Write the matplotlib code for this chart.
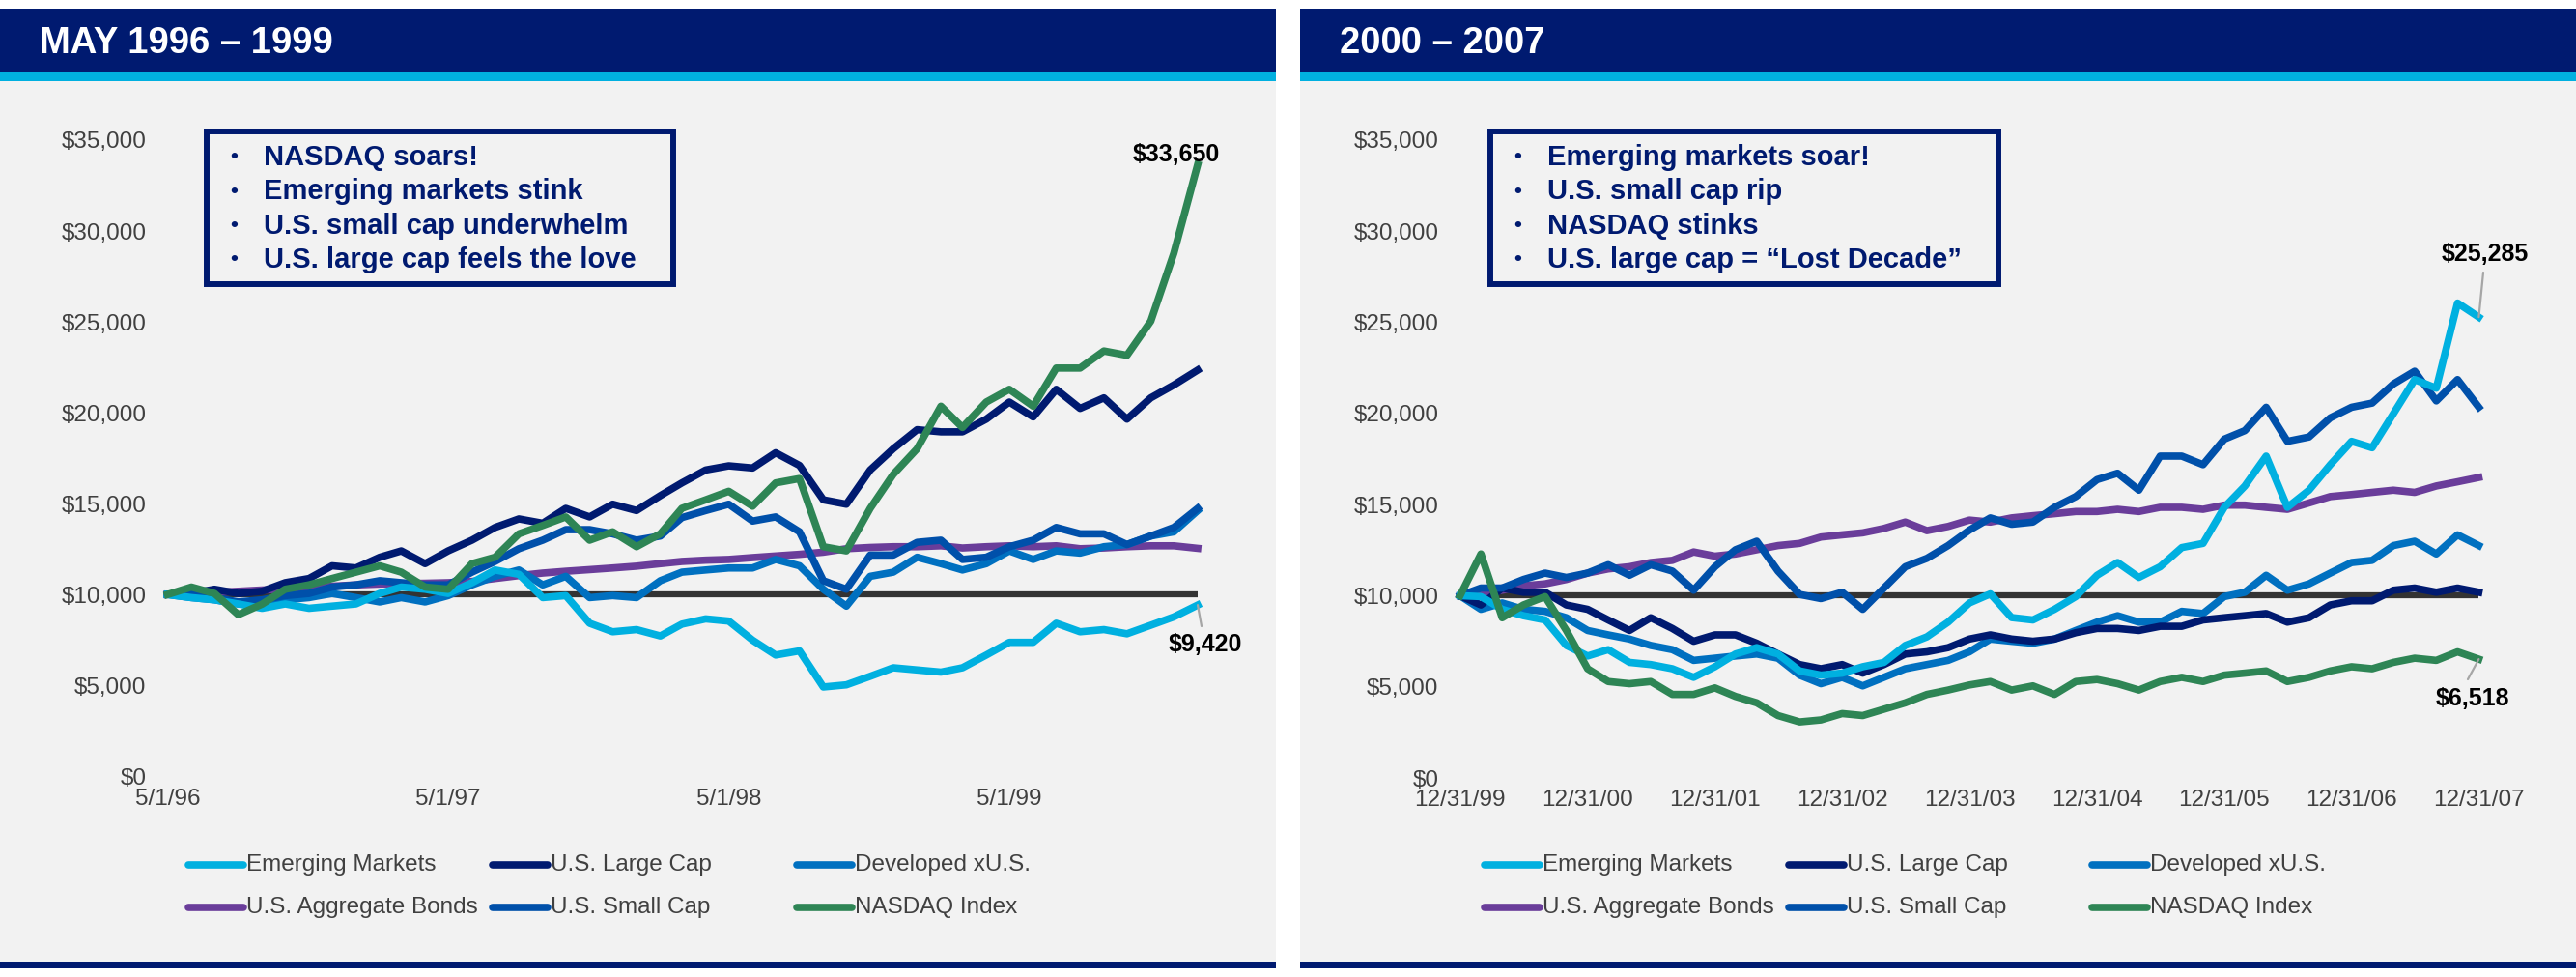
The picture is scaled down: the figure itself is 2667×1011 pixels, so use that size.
import matplotlib
matplotlib.use("Agg")
import matplotlib.pyplot as plt
from matplotlib.patches import Rectangle
from matplotlib.lines import Line2D
from matplotlib.ticker import FuncFormatter
import pandas as pd

plt.rcParams['font.family'] = ['Liberation Sans', 'DejaVu Sans']

# ---- data (growth of $10,000) ----
dates_96 = [pd.Timestamp('1996-05-01') + pd.DateOffset(months=i) for i in range(45)]
em_96 = [10000, 9830, 9710, 9480, 9240, 9480, 9240, 9360, 9480, 10060,
         10410, 10290, 10060, 10650, 11350, 11110, 9830, 9940, 8420, 7950,
         8070, 7720, 8370, 8660, 8540, 7490, 6670, 6900, 4910, 5030,
         5500, 5970, 5850, 5730, 5970, 6670, 7370, 7370, 8420, 7950,
         8070, 7840, 8310, 8770, 9420]
large_96 = [10000, 10060, 10290, 10060, 10180, 10650, 10880, 11580, 11460, 12050,
            12400, 11700, 12400, 12990, 13690, 14160, 13920, 14740, 14270, 14970,
            14620, 15440, 16140, 16850, 17080, 16960, 17800, 17100, 15210, 14970,
            16850, 18020, 19070, 18950, 18950, 19650, 20590, 19770, 21290, 20240,
            20820, 19650, 20820, 21530, 22350]
dev_96 = [10000, 9830, 9710, 9480, 9590, 9710, 9830, 10060, 9830, 9590,
          9830, 9590, 9940, 10530, 11000, 11350, 10530, 11000, 9830, 9940,
          9830, 10760, 11230, 11350, 11460, 11460, 11930, 11580, 10290, 9360,
          11000, 11230, 12050, 11700, 11350, 11700, 12400, 11930, 12400, 12280,
          12630, 12750, 13220, 13450, 14620]
bonds_96 = [10000, 10010, 10110, 10180, 10250, 10290, 10340, 10460, 10530, 10580,
            10600, 10620, 10650, 10720, 10880, 11040, 11180, 11280, 11370, 11460,
            11560, 11700, 11820, 11890, 11930, 12030, 12120, 12210, 12330, 12520,
            12590, 12630, 12630, 12680, 12560, 12630, 12680, 12630, 12680, 12520,
            12560, 12630, 12680, 12680, 12540]
small_96 = [10000, 10060, 9830, 9590, 9710, 9940, 10060, 10410, 10530, 10760,
            10650, 10530, 10530, 11230, 11820, 12520, 12990, 13570, 13570, 13340,
            12990, 13220, 14230, 14620, 14970, 14040, 14270, 13450, 10760, 10290,
            12170, 12170, 12870, 12990, 11930, 12050, 12630, 12990, 13690, 13340,
            13340, 12750, 13220, 13690, 14740]
nasdaq_96 = [10000, 10410, 10060, 8890, 9470, 10290, 10530, 10880, 11230, 11580,
             11230, 10410, 10290, 11700, 12050, 13340, 13800, 14270, 12990, 13450,
             12630, 13340, 14740, 15210, 15680, 14860, 16140, 16380, 12630, 12400,
             14740, 16610, 18020, 20360, 19190, 20590, 21290, 20360, 22460, 22460,
             23400, 23160, 25040, 28780, 33650]

dates_00 = [pd.Timestamp('1999-12-31') + pd.offsets.MonthEnd(2 * i) for i in range(49)]
em_00 = [10000, 9950, 9250, 8900, 8670, 7270, 6690, 7040, 6340, 6220,
         5990, 5520, 6100, 6800, 7150, 6800, 5870, 5640, 5750, 6100,
         6340, 7270, 7740, 8550, 9600, 10100, 8800, 8670, 9250, 9950,
         11120, 11820, 11000, 11590, 12640, 12870, 14850, 16020, 17660, 14850,
         15790, 17190, 18470, 18120, 19990, 21860, 21390, 26060, 25285]
large_00 = [10000, 9490, 10420, 10190, 10190, 9490, 9250, 8670, 8090, 8790,
            8200, 7500, 7850, 7850, 7390, 6800, 6220, 5990, 6220, 5750,
            6220, 6800, 6920, 7150, 7620, 7850, 7620, 7500, 7620, 7970,
            8200, 8200, 8090, 8320, 8320, 8670, 8790, 8900, 9020, 8550,
            8790, 9490, 9720, 9720, 10300, 10420, 10190, 10420, 10190]
dev_00 = [10000, 9250, 9600, 9250, 9140, 8790, 8090, 7850, 7620, 7270,
          7040, 6450, 6570, 6690, 6800, 6570, 5640, 5170, 5520, 5050,
          5520, 5990, 6220, 6450, 6920, 7620, 7500, 7390, 7620, 8090,
          8550, 8900, 8550, 8550, 9140, 9020, 9950, 10190, 11120, 10300,
          10650, 11240, 11820, 11940, 12750, 12990, 12290, 13340, 12750]
bonds_00 = [10000, 10070, 10300, 10540, 10650, 10890, 11240, 11470, 11590, 11820,
            11940, 12400, 12170, 12290, 12520, 12750, 12870, 13220, 13340, 13450,
            13690, 14040, 13570, 13800, 14150, 14040, 14270, 14390, 14500, 14620,
            14620, 14740, 14620, 14850, 14850, 14740, 14970, 14970, 14850, 14740,
            15090, 15440, 15550, 15670, 15790, 15670, 16020, 16250, 16490]
small_00 = [10000, 10420, 10420, 10890, 11240, 11000, 11240, 11700, 11120, 11700,
            11350, 10300, 11590, 12520, 12990, 11350, 10070, 9840, 10190, 9250,
            10420, 11590, 12050, 12750, 13600, 14270, 13920, 14040, 14850, 15440,
            16370, 16720, 15790, 17660, 17660, 17190, 18590, 19060, 20340, 18470,
            18710, 19760, 20340, 20570, 21620, 22320, 20690, 21860, 20340]
nasdaq_00 = [10000, 12290, 8790, 9490, 9950, 8090, 5990, 5290, 5170, 5290,
             4580, 4580, 4940, 4470, 4120, 3420, 3070, 3180, 3530, 3420,
             3770, 4120, 4580, 4820, 5100, 5290, 4820, 5050, 4580, 5290,
             5400, 5170, 4820, 5290, 5520, 5290, 5640, 5750, 5870, 5290,
             5520, 5870, 6100, 5990, 6340, 6570, 6450, 6920, 6518]

series_names = ['Emerging Markets', 'U.S. Large Cap', 'Developed xU.S.',
                'U.S. Aggregate Bonds', 'U.S. Small Cap', 'NASDAQ Index']
ticks_96 = ['1996-05-01', '1997-05-01', '1998-05-01', '1999-05-01']
ticklabels_96 = ['5/1/96', '5/1/97', '5/1/98', '5/1/99']
ticks_00 = ['%d-12-31' % y for y in range(1999, 2008)]
ticklabels_00 = ['12/31/%02d' % (y % 100) for y in range(1999, 2008)]

notes_96 = ['NASDAQ soars!', 'Emerging markets stink',
            'U.S. small cap underwhelm', 'U.S. large cap feels the love']
notes_00 = ['Emerging markets soar!', 'U.S. small cap rip',
            'NASDAQ stinks', 'U.S. large cap = \u201cLost Decade\u201d']

# ---- styling ----
W, H = 2667, 1011
NAVY = '#001a70'
CYAN = '#00b0e0'
BG = '#f2f2f2'
TXT = '#404040'
colors = {'Emerging Markets': '#00b0e0', 'U.S. Large Cap': '#001a70',
          'Developed xU.S.': '#0070c0', 'U.S. Aggregate Bonds': '#6a3d9a',
          'U.S. Small Cap': '#0050aa', 'NASDAQ Index': '#2e8555'}

fig = plt.figure(figsize=(W / 100, H / 100), dpi=100)
fig.patch.set_facecolor('white')


def fx(x):
    return x / W


def fy(y):
    return 1 - y / H


def band(x0, x1, y0, y1, c):
    fig.add_artist(Rectangle((fx(x0), fy(y1)), (x1 - x0) / W, (y1 - y0) / H,
                             transform=fig.transFigure, facecolor=c,
                             edgecolor='none', zorder=0))


def panel(x0, x1, title):
    band(x0, x1, 84, 995, BG)
    band(x0, x1, 9, 74, NAVY)
    band(x0, x1, 74, 84, CYAN)
    band(x0, x1, 995, 1002, NAVY)
    fig.text(fx(x0 + 41), fy(45), title, color='white', fontsize=27.5,
             fontweight='bold', va='center', ha='left')


def make_axes(x0, x1, ytop, ybot, dates, data, xt, xtl):
    ax = fig.add_axes([fx(x0), fy(ybot), (x1 - x0) / W, (ybot - ytop) / H])
    ax.set_facecolor('none')
    for s in ax.spines.values():
        s.set_visible(False)
    ax.set_xlim(dates[0], dates[-1])
    ax.set_ylim(0, 35000)
    ax.set_yticks(range(0, 35001, 5000))
    ax.yaxis.set_major_formatter(FuncFormatter(lambda v, p: '${:,.0f}'.format(v)))
    ax.set_xticks([pd.Timestamp(t) for t in xt])
    ax.set_xticklabels(xtl)
    ax.tick_params(axis='y', length=0, labelsize=17.5, labelcolor=TXT, pad=16)
    ax.tick_params(axis='x', length=0, labelsize=17.5, labelcolor=TXT, pad=9)
    ax.axhline(10000, color='#333333', lw=4.5, zorder=2)
    order = ['U.S. Aggregate Bonds', 'Developed xU.S.', 'U.S. Large Cap',
             'U.S. Small Cap', 'Emerging Markets', 'NASDAQ Index']
    for name in order:
        ax.plot(dates, data[name], color=colors[name], lw=5.5, zorder=3,
                solid_joinstyle='round', clip_on=False)
    return ax


def note_box(x0, x1, y0, y1, lines):
    fig.add_artist(Rectangle((fx(x0), fy(y1)), (x1 - x0) / W, (y1 - y0) / H,
                             transform=fig.transFigure, facecolor='none',
                             edgecolor=NAVY, lw=4.3, zorder=5))
    for i, t in enumerate(lines):
        yy = 163 + 35.3 * i
        fig.text(fx(x0 + 24), fy(yy), '\u2022', color=NAVY, fontsize=16,
                 fontweight='bold', va='center', ha='left')
        fig.text(fx(x0 + 59), fy(yy), t, color=NAVY, fontsize=21,
                 fontweight='bold', va='center', ha='left')


def legend(xs, rows):
    names = [[series_names[0], series_names[1], series_names[2]],
             [series_names[3], series_names[4], series_names[5]]]
    for r, yy in enumerate(rows):
        for c, xx in enumerate(xs):
            n = names[r][c]
            fig.add_artist(Line2D([fx(xx), fx(xx + 57)], [fy(yy), fy(yy)],
                                  transform=fig.transFigure, color=colors[n],
                                  lw=5.5, solid_capstyle='round'))
            fig.text(fx(xx + 60), fy(yy), n, color=TXT, fontsize=17.5,
                     va='center', ha='left')


def leader(ax, d, v, x, y):
    ax.annotate('', xy=(d, v), xytext=(x, H - y), textcoords='figure pixels',
                arrowprops=dict(arrowstyle='-', color='#a6a6a6', lw=1.6,
                                shrinkA=0, shrinkB=0), annotation_clip=False)


# ---- left panel ----
panel(0, 1321, 'MAY 1996 \u2013 1999')
data_96 = dict(zip(series_names, [em_96, large_96, dev_96, bonds_96, small_96, nasdaq_96]))
ax1 = make_axes(173.5, 1240, 145, 803.3, dates_96, data_96, ticks_96, ticklabels_96)
note_box(214, 697, 136, 294, notes_96)
legend([195, 510, 825], [895, 939])
fig.text(fx(1218), fy(160), '$33,650', fontsize=18, fontweight='bold',
         color='black', ha='center', va='center')
leader(ax1, dates_96[-1], em_96[-1], 1244, 648)
fig.text(fx(1248), fy(667), '$9,420', fontsize=18, fontweight='bold',
         color='black', ha='center', va='center')

# ---- right panel ----
panel(1346, 2667, '2000 \u2013 2007')
data_00 = dict(zip(series_names, [em_00, large_00, dev_00, bonds_00, small_00, nasdaq_00]))
ax2 = make_axes(1511.6, 2566.4, 145, 805, dates_00, data_00, ticks_00, ticklabels_00)
note_box(1543, 2069, 136, 294, notes_00)
legend([1537, 1852, 2166], [895, 939])
leader(ax2, dates_00[-1], em_00[-1], 2571, 282)
fig.text(fx(2573), fy(263), '$25,285', fontsize=18, fontweight='bold',
         color='black', ha='center', va='center')
leader(ax2, dates_00[-1], nasdaq_00[-1], 2555, 703)
fig.text(fx(2560), fy(723), '$6,518', fontsize=18, fontweight='bold',
         color='black', ha='center', va='center')

fig.savefig('out.png', dpi=100, facecolor='white')
